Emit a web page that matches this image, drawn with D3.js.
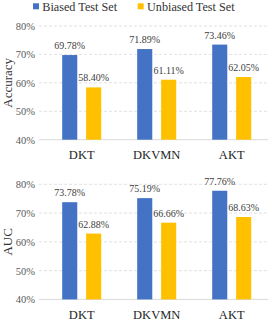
<!DOCTYPE html>
<html><head><meta charset="utf-8">
<script src="https://cdn.jsdelivr.net/npm/d3@7"></script>
<style>
html,body{margin:0;padding:0;background:#fff;}
svg{display:block;font-family:"Liberation Serif","Times New Roman",serif;}
</style></head>
<body>
<svg id="chart" width="270" height="322"></svg>
<script>
const categories = ["DKT", "DKVMN", "AKT"];
const seriesNames = ["Biased Test Set", "Unbiased Test Set"];
const seriesColors = ["#4472C4", "#FFC000"];
const accuracyBiased = [69.78, 71.89, 73.46];
const accuracyUnbiased = [58.40, 61.11, 62.05];
const aucBiased = [73.78, 75.19, 77.76];
const aucUnbiased = [62.88, 66.66, 68.63];
const yTicks = [40, 50, 60, 70, 80];

const svg = d3.select("#chart");

// legend
const legend = svg.append("g");
const legendX = [33, 137.7];
seriesNames.forEach((name, i) => {
  legend.append("rect").attr("x", legendX[i]).attr("y", 3.3).attr("width", 6).attr("height", 6)
    .attr("fill", seriesColors[i]);
  legend.append("text").attr("x", legendX[i] + 9.3).attr("y", 10.6)
    .attr("font-size", "12.2px").attr("fill", "#333").text(name);
});

function panel(title, biased, unbiased, yTop, yBottom) {
  const g = svg.append("g");
  const y = d3.scaleLinear().domain([40, 80]).range([yBottom, yTop]);
  const x0 = d3.scaleBand().domain(categories).range([44.2, 269.2]);
  const x1 = d3.scaleBand().domain(seriesNames).range([18, 57]).paddingInner(0.37);

  // gridlines
  g.selectAll(".grid").data(yTicks.filter(t => t !== 40)).enter().append("line")
    .attr("x1", 39).attr("x2", 268).attr("y1", d => y(d)).attr("y2", d => y(d))
    .attr("stroke", "#d9d9d9").attr("stroke-width", 0.8).attr("stroke-dasharray", "3,2");
  g.append("line").attr("x1", 39).attr("x2", 268).attr("y1", y(40)).attr("y2", y(40))
    .attr("stroke", "#d9d9d9").attr("stroke-width", 1);

  // y axis tick labels
  const yAxis = d3.axisLeft(y).tickValues(yTicks).tickSize(0).tickPadding(0).tickFormat(d => d + "%");
  const ya = g.append("g").attr("transform", "translate(35,0)").call(yAxis);
  ya.select(".domain").remove();
  ya.selectAll("text").attr("font-size", "10.5px").attr("fill", "#595959")
    .attr("font-family", "Liberation Serif, Times New Roman, serif");

  // x axis labels
  const xAxis = d3.axisBottom(x0).tickSize(0).tickPadding(0);
  const xa = g.append("g").attr("transform", `translate(0,${yBottom})`).call(xAxis);
  xa.select(".domain").remove();
  xa.selectAll("text").attr("font-size", "12.5px").attr("fill", "#262626")
    .attr("font-family", "Liberation Serif, Times New Roman, serif")
    .attr("dy", null).attr("y", 19.8);

  // bars
  const data = categories.map((c, i) => ({ c, vals: [biased[i], unbiased[i]] }));
  const grp = g.selectAll(".grp").data(data).enter().append("g")
    .attr("transform", d => `translate(${x0(d.c)},0)`);
  grp.selectAll("rect").data(d => d.vals.map((v, j) => ({ v, s: seriesNames[j], j })))
    .enter().append("rect")
    .attr("x", d => x1(d.s)).attr("width", x1.bandwidth())
    .attr("y", d => y(d.v)).attr("height", d => y(40) - y(d.v))
    .attr("fill", d => seriesColors[d.j]);
  grp.selectAll("text.val").data(d => d.vals.map((v, j) => ({ v, s: seriesNames[j], j })))
    .enter().append("text").attr("class", "val")
    .attr("x", d => x1(d.s) + x1.bandwidth() / 2).attr("y", d => y(d.v) - 6)
    .attr("text-anchor", "middle").attr("font-size", "10px").attr("fill", "#404040")
    .text(d => d.v.toFixed(2) + "%");

  // y title
  g.append("text").attr("transform", `translate(11.5,${(yTop + yBottom) / 2}) rotate(-90)`)
    .attr("text-anchor", "middle").attr("font-size", "13px").attr("fill", "#333").text(title);
}

panel("Accuracy", accuracyBiased, accuracyUnbiased, 26, 139.7);
panel("AUC", aucBiased, aucUnbiased, 184.3, 299.4);
</script>
</body></html>
